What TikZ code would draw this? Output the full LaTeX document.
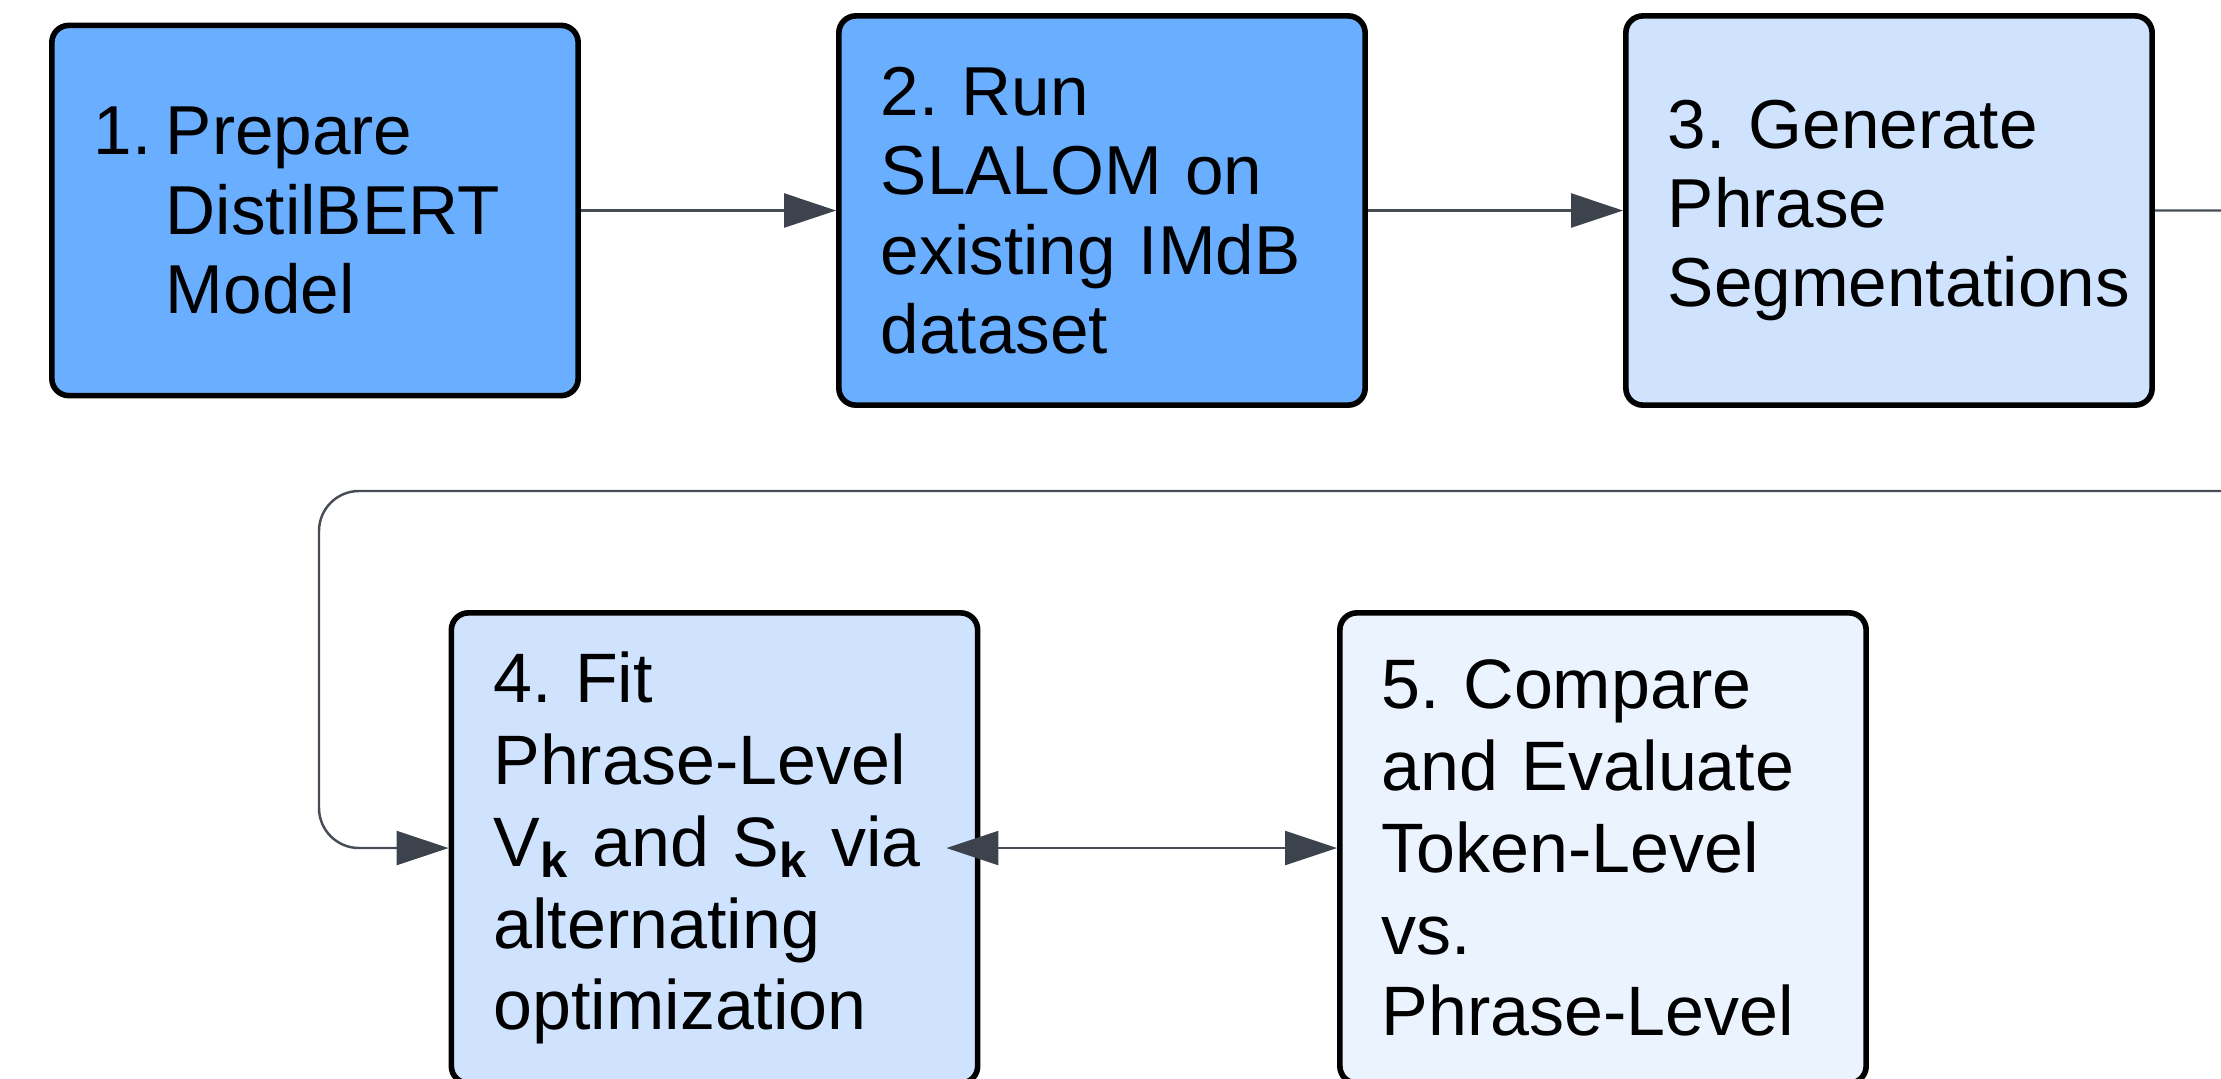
\documentclass[tikz,border=0pt]{standalone}
\usepackage{fontspec}
\setmainfont{Liberation Sans}
\usetikzlibrary{arrows.meta}
\definecolor{bluedark}{HTML}{6AAFFF}
\definecolor{bluemid}{HTML}{CFE3FE}
\definecolor{bluelight}{HTML}{EBF3FE}
\definecolor{conncol}{HTML}{474D57}
\definecolor{headcol}{HTML}{3D434D}
\tikzset{
  stepbox/.style={draw=black, line width=1.6pt, rounded corners=0.17cm,
    rectangle, minimum width=5.26cm, text width=4.42cm, inner xsep=0.42cm,
    align=left, font=\fontsize{19.7}{22.6}\selectfont\frenchspacing},
  tallbox/.style={stepbox, minimum height=4.70cm,
    font=\fontsize{19.9}{23.3}\selectfont\frenchspacing},
  conn/.style={draw=conncol, line width=0.7pt,
    >={Triangle[length=0.52cm,width=0.34cm,fill=headcol,color=headcol]}},
}
\newcommand{\subk}{\textsubscript{\bfseries k}}
\begin{document}
\begin{tikzpicture}[x=0.01cm,y=-0.01cm]
\useasboundingbox (0,0) rectangle (2221,1078);
\clip (0,0) rectangle (2221,1078);
\node[stepbox, fill=bluedark, minimum height=3.70cm] (b1) at (315,210.5)
  {\makebox[0.72cm][l]{1.}Prepare\\\hspace*{0.72cm}DistilBERT\\\hspace*{0.72cm}Model};
\node[stepbox, fill=bluedark, minimum height=3.89cm] (b2) at (1102,210.5)
  {2. Run\\SLALOM on\\existing IMdB\\dataset};
\node[stepbox, fill=bluemid, minimum height=3.89cm] (b3) at (1889,210.5)
  {3. Generate\\Phrase\\\mbox{Segmentations}};
\node[tallbox, fill=bluemid] (b4) at (714.5,848)
  {4. Fit\\Phrase-Level\\V\subk{} and S\subk{} via\\alternating\\optimization};
\node[tallbox, fill=bluelight] (b5) at (1603,848)
  {5. Compare\\and Evaluate\\Token-Level\\vs.\\Phrase-Level};
\coordinate (turn) at (2320,491);
\coordinate (lc) at (319,491);
\draw[conn, ->] (b1.east) -- (b2.west);
\draw[conn, ->] (b2.east) -- (b3.west);
\draw[conn, rounded corners=0.4cm, ->] (b3.east) -| (turn) -- (lc) |- (b4.west);
\draw[conn, <->] ([xshift=-0.34cm]b4.east) -- (b5.west);
\end{tikzpicture}
\end{document}
